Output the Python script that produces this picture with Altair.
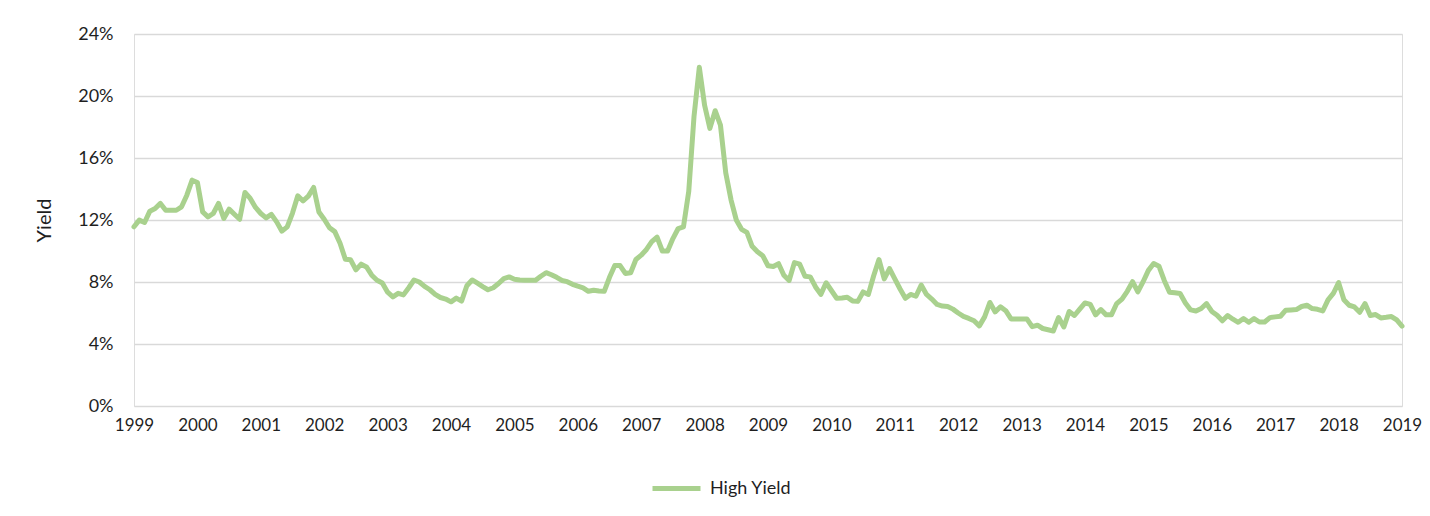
import altair as alt
import pandas as pd

# Monthly high-yield index yield (%), Jan 1999 .. Jan 2019
hy = [
    11.56, 11.99, 11.84, 12.57, 12.74, 13.07, 12.63, 12.63, 12.63, 12.85, 13.60, 14.57,  # 1999
    14.42, 12.52, 12.20, 12.42, 13.07, 12.10, 12.70, 12.37, 12.05, 13.78, 13.39, 12.81,  # 2000
    12.42, 12.14, 12.36, 11.88, 11.28, 11.56, 12.45, 13.56, 13.23, 13.54, 14.10, 12.52,  # 2001
    12.05, 11.50, 11.25, 10.50, 9.47, 9.43, 8.78, 9.15, 8.97, 8.44, 8.11, 7.93,          # 2002
    7.34, 7.04, 7.27, 7.17, 7.63, 8.13, 8.00, 7.72, 7.50, 7.20, 7.00, 6.90,              # 2003
    6.72, 6.96, 6.77, 7.76, 8.13, 7.92, 7.70, 7.50, 7.63, 7.90, 8.22, 8.33,              # 2004
    8.18, 8.13, 8.11, 8.11, 8.11, 8.37, 8.60, 8.47, 8.30, 8.10, 8.02, 7.85,              # 2005
    7.73, 7.62, 7.40, 7.47, 7.42, 7.40, 8.30, 9.06, 9.06, 8.55, 8.60, 9.45,              # 2006
    9.73, 10.10, 10.60, 10.90, 10.00, 10.00, 10.80, 11.45, 11.56, 13.85, 18.70, 21.85,   # 2007
    19.40, 17.91, 19.05, 18.12, 15.05, 13.30, 12.00, 11.40, 11.20, 10.30, 9.95, 9.70,    # 2008
    9.05, 9.00, 9.18, 8.44, 8.10, 9.25, 9.15, 8.37, 8.33, 7.68, 7.20, 7.95,              # 2009
    7.45, 6.95, 6.97, 7.02, 6.78, 6.75, 7.36, 7.20, 8.40, 9.45, 8.20, 8.87,              # 2010
    8.20, 7.55, 6.95, 7.20, 7.08, 7.80, 7.20, 6.90, 6.55, 6.45, 6.42, 6.25,              # 2011
    6.00, 5.78, 5.65, 5.50, 5.17, 5.75, 6.68, 6.07, 6.40, 6.15, 5.62, 5.62,              # 2012
    5.62, 5.62, 5.12, 5.21, 5.00, 4.92, 4.84, 5.71, 5.10, 6.10, 5.84, 6.25,              # 2013
    6.65, 6.55, 5.88, 6.22, 5.88, 5.88, 6.61, 6.90, 7.40, 8.02, 7.36, 8.02,              # 2014
    8.75, 9.19, 9.02, 8.10, 7.34, 7.30, 7.26, 6.65, 6.20, 6.13, 6.29, 6.61,              # 2015
    6.10, 5.86, 5.50, 5.84, 5.60, 5.40, 5.64, 5.40, 5.64, 5.42, 5.42, 5.70,              # 2016
    5.75, 5.79, 6.18, 6.20, 6.22, 6.42, 6.50, 6.29, 6.24, 6.13, 6.85, 7.26,              # 2017
    7.96, 6.85, 6.50, 6.39, 6.05, 6.61, 5.84, 5.90, 5.68, 5.72, 5.77, 5.55,              # 2018
    5.15,                                                                                # 2019
]
series_name = "High Yield"
year_ticks = list(range(1999, 2020))
y_ticks = [0, 0.04, 0.08, 0.12, 0.16, 0.20, 0.24]

months = pd.date_range("1999-01-01", periods=len(hy), freq="MS")
df = pd.DataFrame({
    "t": months.year + (months.month - 1) / 12.0,
    "yield": [v / 100.0 for v in hy],
    "series": series_name,
})

FONT = "Lato"
TXT = "#1f1f1f"

line = alt.Chart(df).mark_line(
    strokeWidth=5, strokeCap="round", strokeJoin="round"
).encode(
    x=alt.X("t:Q",
            scale=alt.Scale(domain=[1999, 2019], nice=False, zero=False),
            axis=alt.Axis(values=year_ticks, format="d", title=None, grid=False,
                          domain=False, ticks=False, labelPadding=11,
                          labelFlush=False, labelFontSize=17, labelFont=FONT,
                          labelColor=TXT, labelOverlap=False)),
    y=alt.Y("yield:Q",
            scale=alt.Scale(domain=[0, 0.24], nice=False),
            axis=alt.Axis(values=y_ticks, format=".0%", title="Yield",
                          domain=False, ticks=False, labelPadding=21,
                          labelFontSize=18, labelFont=FONT, labelColor=TXT,
                          gridColor="#D9D9D9", gridWidth=1.5,
                          titleFont=FONT, titleFontSize=20, titleFontWeight="normal",
                          titleColor=TXT, titleAngle=-90, titleX=-90, titleY=186,
                          titleAlign="center", titleBaseline="middle")),
    color=alt.Color("series:N",
                    scale=alt.Scale(domain=[series_name], range=["#A9D18E"]),
                    legend=alt.Legend(title=None, orient="none", legendX=516, legendY=428,
                                      direction="horizontal", symbolType="stroke",
                                      symbolSize=2304, symbolStrokeWidth=5,
                                      labelFont=FONT, labelFontSize=18, labelColor=TXT,
                                      labelOffset=7, padding=0)),
)

chart = line.properties(
    width=1268, height=372,
    autosize=alt.AutoSizeParams(type="none"),
    padding={"left": 126, "top": 26, "right": 20, "bottom": 100},
).configure_view(strokeWidth=0).configure(background="white")

chart.save("out.html", embed_options={"renderer": "svg", "actions": False})
